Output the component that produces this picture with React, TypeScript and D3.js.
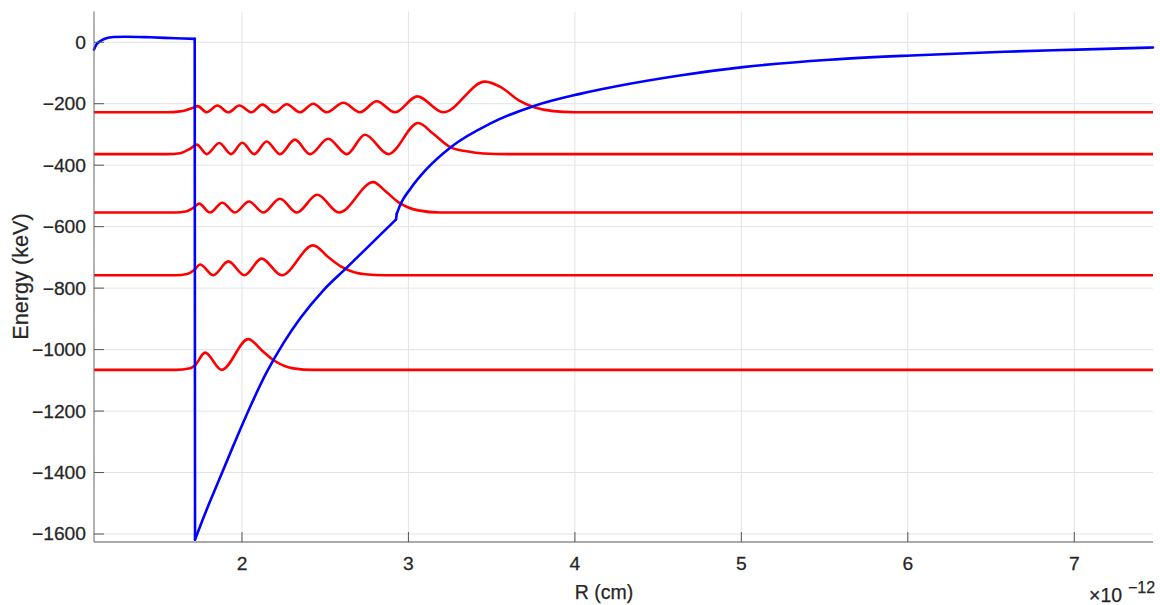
import React from "react";
import { scaleLinear, line, curveMonotoneX, curveLinear } from "d3";

const svgWidth = 1160;
const svgHeight = 605;
const plot = { left: 94, right: 1153, top: 11.5, bottom: 542 };
const tickLen = 10;
const tickFont = 18;
const tickStretch = 1.07;

// R in units of 1e-12 cm, energies in keV
const xDomain = [1.111, 7.473];
const yDomain = [-1626, 100];
const xTicks = [2, 3, 4, 5, 6, 7];
const yTicks = [0, -200, -400, -600, -800, -1000, -1200, -1400, -1600];

// potential, split where it jumps
const potentialTop = [
  [1.111, -24], [1.125, -8], [1.147, 3], [1.18, 12], [1.23, 17], [1.3, 18],
  [1.45, 16], [1.6, 13], [1.716, 11],
];
const potentialWall = [[1.716, 11], [1.718, -1618]];
const potentialInner = [
  [1.718, -1618], [1.79, -1518], [1.85, -1440], [1.95, -1310], [2.05, -1185],
  [2.15, -1072], [2.25, -978], [2.35, -898], [2.489, -807], [2.62, -738],
  [2.76, -664], [2.925, -577],
];
const potentialKink = [[2.925, -577], [2.93, -558]];
const potentialOuter = [
  [2.93, -558], [2.955, -524], [3.01, -478], [3.1, -418], [3.26, -339],
  [3.49, -265], [3.75, -208], [4.03, -168], [4.33, -135], [4.63, -108],
  [5.01, -81], [5.53, -57], [6.02, -43], [6.58, -31], [7.02, -24],
  [7.473, -17],
];

// wave functions drawn on top of their levels
const state1 = [
  [1.111, -228], [1.55, -228], [1.628, -225], [1.658, -222], [1.698, -215],
  [1.734, -208], [1.788, -228], [1.852, -206], [1.918, -228], [1.984, -206],
  [2.058, -228], [2.122, -203], [2.194, -228], [2.269, -202], [2.348, -228],
  [2.428, -200], [2.509, -228], [2.609, -197], [2.709, -228], [2.809, -192],
  [2.919, -228], [3.053, -176], [3.209, -228], [3.46, -128], [3.56, -148],
  [3.66, -188], [3.76, -212], [3.87, -224], [4.0, -227.7], [4.15, -228],
  [7.473, -228],
];
const state2 = [
  [1.111, -364], [1.55, -364], [1.628, -361], [1.688, -347], [1.728, -333],
  [1.788, -364], [1.864, -328], [1.934, -364], [2.002, -327], [2.074, -364],
  [2.148, -323], [2.228, -364], [2.318, -317], [2.409, -364], [2.518, -314],
  [2.629, -364], [2.739, -301], [2.879, -364], [3.059, -263], [3.149, -298],
  [3.25, -341], [3.35, -355], [3.45, -362], [3.6, -364], [7.473, -364],
];
const state3 = [
  [1.111, -554], [1.6, -554], [1.66, -551], [1.71, -538], [1.742, -525],
  [1.808, -554], [1.882, -522], [1.958, -554], [2.042, -518], [2.128, -554],
  [2.228, -509], [2.329, -554], [2.452, -496], [2.583, -554], [2.789, -455],
  [2.859, -483], [2.939, -520], [3.059, -547], [3.19, -554], [7.473, -554],
];
const state4 = [
  [1.111, -758], [1.6, -758], [1.67, -754], [1.715, -740], [1.748, -723],
  [1.828, -758], [1.918, -713], [2.014, -758], [2.118, -704], [2.238, -758],
  [2.428, -661], [2.518, -699], [2.599, -731], [2.739, -755], [2.859, -758],
  [7.473, -758],
];
const state5 = [
  [1.111, -1066], [1.6, -1066], [1.688, -1061], [1.718, -1051], [1.778, -1010],
  [1.878, -1066], [2.038, -966], [2.118, -1002], [2.188, -1034], [2.308, -1061],
  [2.428, -1066], [7.473, -1066],
];
const states = [state5, state4, state3, state2, state1];

const fmt = (v: number) => (v < 0 ? "\u2212" + Math.abs(v) : String(v));

export default function App() {
  const xScale = scaleLinear().domain(xDomain).range([plot.left, plot.right]);
  const yScale = scaleLinear().domain(yDomain).range([plot.bottom, plot.top]);
  const smooth = line<number[]>()
    .x((d) => xScale(d[0]))
    .y((d) => yScale(d[1]))
    .curve(curveMonotoneX);
  const straight = line<number[]>()
    .x((d) => xScale(d[0]))
    .y((d) => yScale(d[1]))
    .curve(curveLinear);
  const font = "'Liberation Sans', Arial, Helvetica, sans-serif";
  const textColor = "#262626";
  const lineWidth = 2.6;

  return (
    <svg
      width={svgWidth}
      height={svgHeight}
      style={{ position: "absolute", left: 0, top: 0, background: "#fff" }}
      fontFamily={font}
    >
      <rect width={svgWidth} height={svgHeight} fill="#fff" />
      {/* grid */}
      {xTicks.map((t) => (
        <line
          key={`gx${t}`}
          x1={xScale(t)}
          x2={xScale(t)}
          y1={plot.top}
          y2={plot.bottom}
          stroke="#e3e3e3"
          strokeWidth={1}
        />
      ))}
      {yTicks.map((t) => (
        <line
          key={`gy${t}`}
          x1={plot.left}
          x2={plot.right}
          y1={yScale(t)}
          y2={yScale(t)}
          stroke="#e3e3e3"
          strokeWidth={1}
        />
      ))}

      {/* wave functions */}
      {states.map((s, i) => (
        <path
          key={`s${i}`}
          d={smooth(s) || ""}
          fill="none"
          stroke="#ff0000"
          strokeWidth={lineWidth}
          strokeLinejoin="round"
        />
      ))}

      {/* potential */}
      <g fill="none" stroke="#0000ff" strokeWidth={lineWidth} strokeLinejoin="round" strokeLinecap="round">
        <path d={smooth(potentialTop) || ""} />
        <path d={straight(potentialWall) || ""} />
        <path d={smooth(potentialInner) || ""} />
        <path d={straight(potentialKink) || ""} />
        <path d={smooth(potentialOuter) || ""} />
      </g>

      {/* axes */}
      <line x1={plot.left} x2={plot.left} y1={plot.top} y2={plot.bottom} stroke="#666" strokeWidth={1} />
      <line x1={plot.left} x2={plot.right} y1={plot.bottom} y2={plot.bottom} stroke="#555" strokeWidth={1} />
      <g fill={textColor} stroke={textColor} strokeWidth={0.25}>
        {yTicks.map((t) => (
          <g key={`ty${t}`} transform={`translate(${plot.left},${yScale(t)})`}>
            <line x2={tickLen} stroke="#555" strokeWidth={1} />
            <text
              transform={`translate(-8,0) scale(${tickStretch},1)`}
              textAnchor="end"
              dy="0.36em"
              fontSize={tickFont}
            >
              {fmt(t)}
            </text>
          </g>
        ))}
        {xTicks.map((t) => (
          <g key={`tx${t}`} transform={`translate(${xScale(t)},${plot.bottom})`}>
            <line y2={-tickLen} stroke="#555" strokeWidth={1} />
            <text
              transform={`translate(0,27.5) scale(${tickStretch},1)`}
              textAnchor="middle"
              fontSize={tickFont}
            >
              {t}
            </text>
          </g>
        ))}

        {/* labels */}
        <text transform="translate(27.5,276.5) rotate(-90)" textAnchor="middle" fontSize={21.7}>
          Energy (keV)
        </text>
        <text transform="translate(604,599)" textAnchor="middle" fontSize={19.5}>
          R (cm)
        </text>
        <text transform="translate(1089,601.5)" fontSize={19.5}>
          {"\u00d710"}
        </text>
        <text transform="translate(1128,593)" fontSize={16}>
          {"\u221212"}
        </text>
      </g>
    </svg>
  );
}
